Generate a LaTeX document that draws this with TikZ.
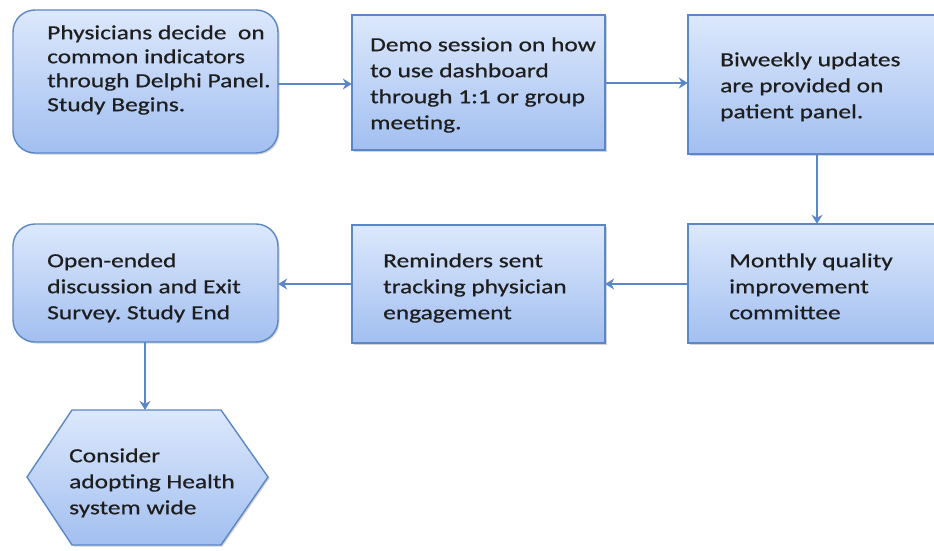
\documentclass[tikz,border=0pt]{standalone}
\usepackage{fontspec}
\setmainfont{Carlito}[FakeStretch=1.27,FakeBold=0.6]
\usetikzlibrary{arrows.meta,shadows}
\frenchspacing
\definecolor{bordc}{HTML}{5B87C6}
\definecolor{topc}{HTML}{DCE8FC}
\definecolor{botc}{HTML}{A2BFF0}
\definecolor{txtc}{HTML}{1E1E1E}
\tikzset{
  boxbase/.style={draw=bordc, line width=1.4pt, top color=topc, bottom color=botc,
    drop shadow={shadow xshift=1.5pt, shadow yshift=-1.5pt, opacity=0.35, fill=gray}},
  rbox/.style={boxbase, rounded corners=22pt},
  sbox/.style={boxbase},
  lbl/.style={anchor=north west, align=left, inner sep=0pt, text=txtc,
    font=\fontsize{20pt}{26pt}\selectfont},
  tight/.style={font=\fontsize{20pt}{24pt}\selectfont},
  conn/.style={draw=bordc, line width=2.5pt, -{Stealth[length=9pt,width=11pt]}}
}
\begin{document}
\begin{tikzpicture}[x=1pt,y=-1pt]
\useasboundingbox (0,0) rectangle (934,551);
% boxes
\path[rbox] (13,10) rectangle (278,153);
\node (b1) at (145.5,81.5) [minimum width=265pt, minimum height=143pt, inner sep=0pt] {};
\path[sbox] (352,15) rectangle (605,150);
\node (b2) at (478.5,82.5) [minimum width=253pt, minimum height=135pt, inner sep=0pt] {};
\path[sbox] (688,15) rectangle (940,154);
\node (b3) at (814,84.5) [minimum width=252pt, minimum height=139pt, inner sep=0pt] {};
\path[sbox] (688,224) rectangle (940,343);
\node (b4) at (814,283.5) [minimum width=252pt, minimum height=119pt, inner sep=0pt] {};
\path[sbox] (352,225) rectangle (605,343);
\node (b5) at (478.5,284) [minimum width=253pt, minimum height=118pt, inner sep=0pt] {};
\path[rbox] (13,224) rectangle (278,342);
\node (b6) at (145.5,283) [minimum width=265pt, minimum height=118pt, inner sep=0pt] {};
% hexagon
\path[boxbase] (72,410) -- (221,410) -- (268,477) -- (221,545) -- (72,545) -- (27,477) -- cycle;
\coordinate (hextop) at (145,410);
% texts (top = first baseline - 0.7*baselineskip)
\node[lbl,tight] (t1) at (47,22.2) {\strut Physicians decide\ \ on\\common indicators\\through Delphi Panel.\\Study Begins.};
\node[lbl] (t2) at (370,32.8) {\strut Demo session on how\\to use dashboard\\through 1:1 or group\\meeting.};
\node[lbl] (t3) at (720,47.8) {\strut Biweekly updates\\are provided on\\patient panel.};
\node[lbl] (t4) at (729,248.8) {\strut Monthly quality\\improvement\\committee};
\node[lbl] (t5) at (383,248.8) {\strut Reminders sent\\tracking physician\\engagement};
\node[lbl] (t6) at (47,248.8) {\strut Open-ended\\discussion and Exit\\Survey. Study End};
\node[lbl] (t7) at (69,443.8) {\strut Consider\\adopting Health\\system wide};
% connectors
\draw[conn] (b1.east |- 0,84) -- (b2.west |- 0,84);
\draw[conn] (b2.east |- 0,83) -- (b3.west |- 0,83);
\draw[conn] (b3.south -| 817,0) -- (b4.north -| 817,0);
\draw[conn] (b4.west |- 0,284) -- (b5.east |- 0,284);
\draw[conn] (b5.west |- 0,284) -- (b6.east |- 0,284);
\draw[conn] (b6.south -| 145,0) -- (hextop);
\end{tikzpicture}
\end{document}
